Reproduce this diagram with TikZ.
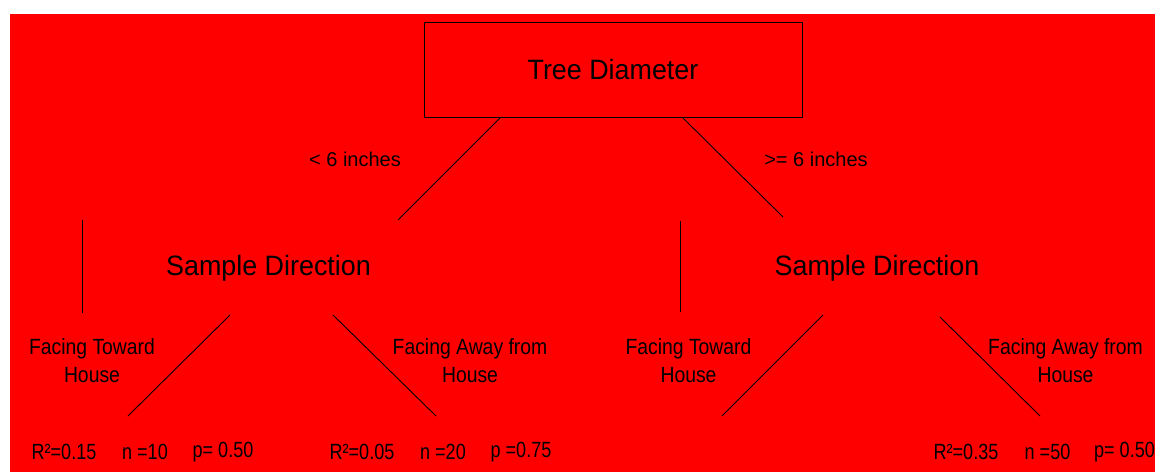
\documentclass[tikz,border=0pt]{standalone}
\usepackage{fontspec}
\setmainfont{Liberation Sans}
\newfontfamily\bigfont[FakeStretch=0.96]{Liberation Sans}
\newfontfamily\midfont[FakeStretch=0.88]{Liberation Sans}
\newfontfamily\smfont[FakeStretch=0.82]{Liberation Sans}
\definecolor{bgred}{RGB}{255,0,0}
\tikzset{
  conn/.style={draw=black, line width=0.9pt},
  big/.style={font=\bigfont\fontsize{28}{32}\selectfont, inner sep=0pt},
  cond/.style={font=\fontsize{20}{24}\selectfont, inner sep=0pt},
  branch/.style={font=\midfont\fontsize{22}{28}\selectfont, inner sep=0pt, align=center},
  stat/.style={font=\smfont\fontsize{22}{26}\selectfont, inner sep=0pt}
}
\begin{document}
\begin{tikzpicture}[x=1pt,y=-1pt]
\useasboundingbox (0,0) rectangle (1155,472);
\fill[white] (0,0) rectangle (1155,472);
\fill[bgred] (10,14) rectangle (1155,472);
% root
\node[big, draw=black, line width=1pt, minimum width=378pt, minimum height=95pt] (td) at (613,69.5) {Tree Diameter};
% sample direction nodes
\node[big] (sd1) at (268.5,268) {Sample Direction};
\node[big] (sd2) at (877,268) {Sample Direction};
\coordinate (sd1tl) at (82,220);
\coordinate (sd1bl) at (82,313);
\coordinate (sd2tl) at (680,221);
\coordinate (sd2bl) at (680,312);
\draw[conn] (sd1tl) -- (sd1bl);
\draw[conn] (sd2tl) -- (sd2bl);
% connector endpoints
\coordinate (tdl) at (500,118);
\coordinate (sd1t) at (398,220);
\coordinate (tdr) at (683,118);
\coordinate (sd2t) at (783,217);
\coordinate (sd1bL) at (230,315);
\coordinate (l1) at (128,416);
\coordinate (sd1bR) at (333,315);
\coordinate (l2) at (436,416);
\coordinate (sd2bL) at (823,315);
\coordinate (l3) at (722,416);
\coordinate (sd2bR) at (940,317);
\coordinate (l4) at (1040,416);
\draw[conn] (tdl) -- (sd1t);
\draw[conn] (tdr) -- (sd2t);
\draw[conn] (sd1bL) -- (l1);
\draw[conn] (sd1bR) -- (l2);
\draw[conn] (sd2bL) -- (l3);
\draw[conn] (sd2bR) -- (l4);
% condition labels
\node[cond] (c1) at (355,159) {< 6 inches};
\node[cond] (c2) at (816,159) {>= 6 inches};
% branch labels
\node[branch] (b1) at (92,361) {Facing Toward\\House};
\node[branch] (b2) at (470,361) {Facing Away from\\House};
\node[branch] (b3) at (688.5,361) {Facing Toward\\House};
\node[branch] (b4) at (1065.5,361) {Facing Away from\\House};
% stats
\node[stat] (s1r) at (64,452) {R²=0.15};
\node[stat] (s1n) at (145,452) {n =10};
\node[stat] (s1p) at (223,452) {p= 0.50};
\node[stat] (s2r) at (362,452) {R²=0.05};
\node[stat] (s2n) at (443,452) {n =20};
\node[stat] (s2p) at (521,452) {p =0.75};
\node[stat] (s3r) at (966,452) {R²=0.35};
\node[stat] (s3n) at (1047.5,452) {n =50};
\node[stat] (s3p) at (1124.5,452) {p= 0.50};
\end{tikzpicture}
\end{document}
